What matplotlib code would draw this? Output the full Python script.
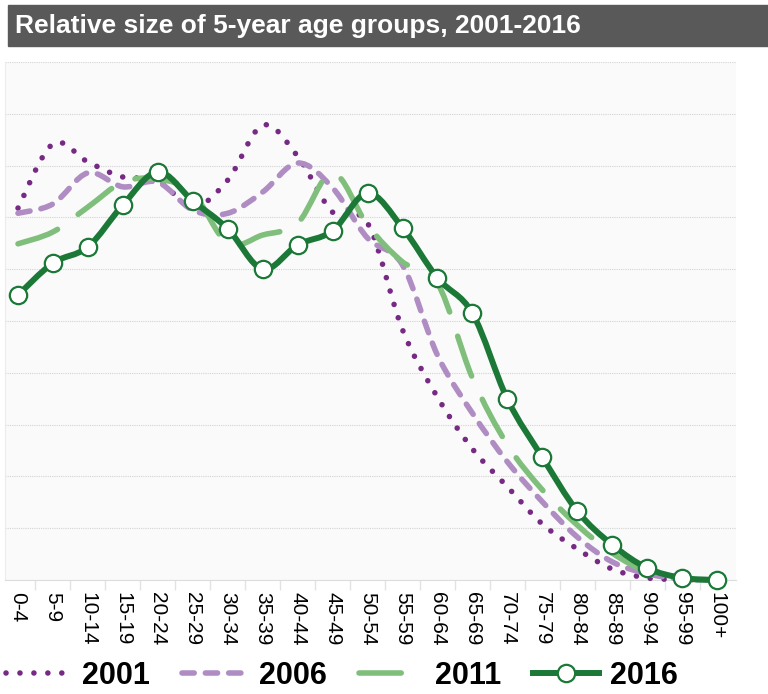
import numpy as np
import matplotlib.pyplot as plt
from matplotlib.path import Path
from matplotlib.patches import PathPatch, Rectangle
from matplotlib.lines import Line2D

plt.rcParams['font.family'] = ['Liberation Sans', 'DejaVu Sans']

# Age groups and relative sizes (in gridline units)
age_groups = ['0-4', '5-9', '10-14', '15-19', '20-24', '25-29', '30-34', '35-39',
              '40-44', '45-49', '50-54', '55-59', '60-64', '65-69', '70-74', '75-79',
              '80-84', '85-89', '90-94', '95-99', '100+']
y2001 = [7.18, 8.42, 8.07, 7.78, 7.72, 7.20, 7.72, 8.78, 8.18, 7.10, 6.89,
         4.83, 3.53, 2.53, 1.80, 1.08, 0.60, 0.21, 0.04, 0.01, 0.0]
y2006 = [7.08, 7.26, 7.86, 7.59, 7.68, 7.14, 7.08, 7.49, 8.05, 7.57, 6.60,
         6.08, 4.34, 3.22, 2.28, 1.51, 0.83, 0.35, 0.12, 0.02, 0.0]
y2011 = [6.49, 6.72, 7.20, 7.68, 7.74, 7.47, 6.50, 6.66, 6.89, 7.86, 6.85,
         6.14, 5.73, 3.90, 2.61, 1.74, 1.06, 0.52, 0.16, 0.03, 0.0]
y2016 = [5.50, 6.12, 6.43, 7.24, 7.88, 7.32, 6.78, 6.00, 6.47, 6.74, 7.47,
         6.80, 5.83, 5.15, 3.49, 2.37, 1.33, 0.68, 0.23, 0.04, 0.0]

c2001, c2006, c2011, c2016 = '#762a83', '#af8dc3', '#7fbf7b', '#1b7837'


def smooth_path(x, y):
    # Catmull-Rom style cubic Bezier through the data points
    pts = np.column_stack([x, y]).astype(float)
    n = len(pts)
    verts = [pts[0]]
    codes = [Path.MOVETO]
    for i in range(n - 1):
        p0 = pts[max(i - 1, 0)]
        p1 = pts[i]
        p2 = pts[i + 1]
        p3 = pts[min(i + 2, n - 1)]
        verts += [p1 + (p2 - p0) / 6, p2 - (p3 - p1) / 6, p2]
        codes += [Path.CURVE4] * 3
    return Path(verts, codes)


fig = plt.figure(figsize=(7.68, 6.94), dpi=100)
ax = fig.add_axes([5 / 768, 1 - 580 / 694, 731 / 768, 518 / 694])
ax.set_facecolor('#fafafa')

x = np.arange(len(age_groups))

ls2001 = (0, (0.01, 2.5))
ls2006 = (0, (2.2, 2.0))
ls2011 = (0, (7.6, 4.6))
styles = [
    (y2001, c2001, ls2001, 4.0),
    (y2006, c2006, ls2006, 4.0),
    (y2011, c2011, ls2011, 4.0),
    (y2016, c2016, '-', 4.3),
]
for vals, col, ls, lw in styles:
    ax.add_patch(PathPatch(smooth_path(x, vals), fill=False, edgecolor=col,
                           linestyle=ls, linewidth=lw, capstyle='round',
                           joinstyle='round', clip_on=False, zorder=3))

ax.plot(x, y2016, 'o', markersize=12.5, markerfacecolor='white',
        markeredgecolor=c2016, markeredgewidth=1.6, clip_on=False, zorder=4)

ax.set_xlim(-0.372, 20.54)
ax.set_ylim(0, 10)
ax.set_yticks(np.arange(0, 11))
ax.set_yticklabels([])
ax.tick_params(axis='y', length=0)
ax.grid(axis='y', color='#d4d4d4', linestyle=(0, (1, 1)), linewidth=0.8)
ax.set_axisbelow(True)

ax.set_xticks(x)
ax.set_xticklabels(age_groups, rotation=270, fontsize=15)
ax.tick_params(axis='x', length=0, pad=9)
ax.set_xticks(np.arange(0.5, 20, 1), minor=True)
ax.tick_params(axis='x', which='minor', length=7, color='#e3e3e3', width=1)

for s in ['top', 'right']:
    ax.spines[s].set_visible(False)
ax.spines['left'].set_color('#ececec')
ax.spines['bottom'].set_color('#dddddd')

# Title bar
fig.patches.append(Rectangle((8 / 768, 1 - 46 / 694), 1, 41 / 694,
                             transform=fig.transFigure, color='#595959', zorder=0))
fig.text(15 / 768, 1 - 26 / 694, 'Relative size of 5-year age groups, 2001-2016',
         color='white', fontsize=19, fontweight='bold', va='center', ha='left')

handles = [
    Line2D([], [], color=c2001, linestyle=ls2001, linewidth=4.0,
           dash_capstyle='round'),
    Line2D([], [], color=c2006, linestyle=ls2006, linewidth=4.0,
           dash_capstyle='round'),
    Line2D([], [], color=c2011, linestyle=ls2011, linewidth=4.0,
           dash_capstyle='round'),
    Line2D([], [], color=c2016, linewidth=4.3, marker='o', markersize=12.5,
           markerfacecolor='white', markeredgecolor=c2016, markeredgewidth=1.6),
]
fig.legend(handles, ['2001', '2006', '2011', '2016'], loc='center left',
           bbox_to_anchor=(6 / 768, 1 - 676 / 694), ncol=4, frameon=False,
           prop={'size': 22, 'weight': 'bold'}, handlelength=2.15,
           handletextpad=0.35, columnspacing=1.05, borderpad=0, borderaxespad=0)

plt.savefig('out.png', dpi=100)
